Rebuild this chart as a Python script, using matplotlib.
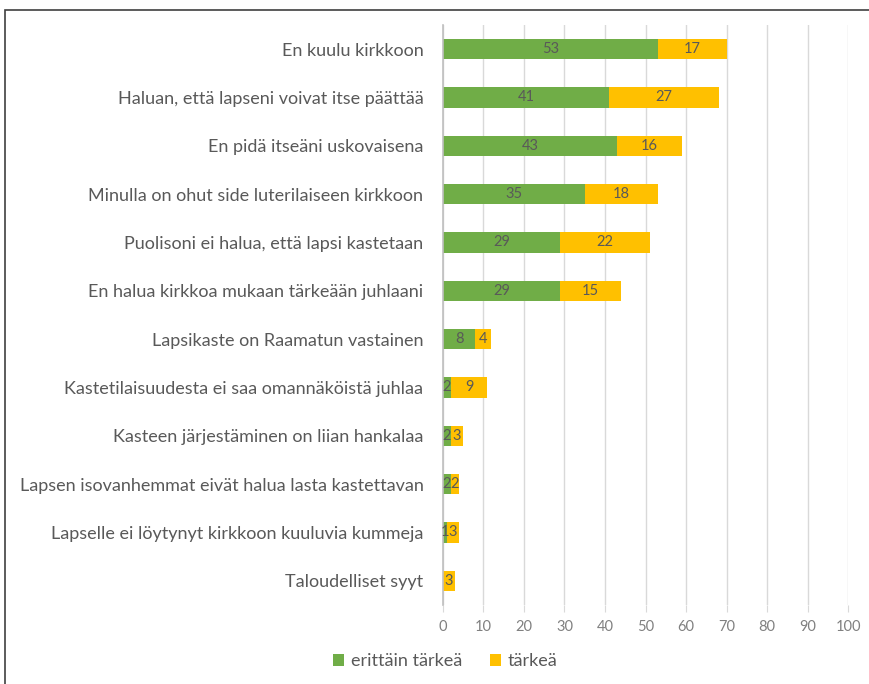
import numpy as np
import matplotlib.pyplot as plt
from matplotlib.patches import Rectangle

plt.rcParams['font.family'] = ['Lato', 'DejaVu Sans']

# data (top to bottom)
categories = ['En kuulu kirkkoon',
              'Haluan, että lapseni voivat itse päättää',
              'En pidä itseäni uskovaisena',
              'Minulla on ohut side luterilaiseen kirkkoon',
              'Puolisoni ei halua, että lapsi kastetaan',
              'En halua kirkkoa mukaan tärkeään juhlaani',
              'Lapsikaste on Raamatun vastainen',
              'Kastetilaisuudesta ei saa omannäköistä juhlaa',
              'Kasteen järjestäminen on liian hankalaa',
              'Lapsen isovanhemmat eivät halua lasta kastettavan',
              'Lapselle ei löytynyt kirkkoon kuuluvia kummeja',
              'Taloudelliset syyt']
erittain = [53, 41, 43, 35, 29, 29, 8, 2, 2, 2, 1, 0]
tarkea = [17, 27, 16, 18, 22, 15, 4, 9, 3, 2, 3, 3]

green = '#70AD47'
orange = '#FFC000'

fig = plt.figure(figsize=(8.7, 6.84), dpi=100)
ax = fig.add_axes([0.509, 0.1155, 0.466, 0.848])

y = np.arange(len(categories))
h = 0.42
b1 = ax.barh(y, erittain, height=h, color=green, label='erittäin tärkeä')
b2 = ax.barh(y, tarkea, left=erittain, height=h, color=orange, label='tärkeä')

for bars, vals in ((b1, erittain), (b2, tarkea)):
    for r, v in zip(bars, vals):
        if v == 0:
            continue
        ax.text(r.get_x() + r.get_width() / 2, r.get_y() + r.get_height() / 2, str(v),
                ha='center', va='center', fontsize=10.5, color='#595959')

ax.set_xlim(0, 100)
ax.set_ylim(len(categories) - 0.5, -0.5)
ax.set_xticks(range(0, 101, 10))
ax.set_yticks(y)
ax.set_yticklabels(categories, fontsize=13, color='#595959')
ax.tick_params(axis='y', length=0, pad=14)
ax.tick_params(axis='x', colors='#D9D9D9', labelcolor='#808080', labelsize=10.5, length=5, pad=6)
ax.xaxis.grid(True, color='#D9D9D9', linewidth=1)
ax.set_axisbelow(True)
for s in ['top', 'right', 'bottom']:
    ax.spines[s].set_visible(False)
ax.spines['left'].set_color('#BFBFBF')
ax.spines['left'].set_linewidth(1.2)

fig.legend(loc='center', bbox_to_anchor=(0.512, 0.033), ncol=2, frameon=False,
           fontsize=13, labelcolor='#595959', handlelength=0.6, handleheight=0.6,
           handletextpad=0.4, columnspacing=1.5)

# outer frame
fig.patches.append(Rectangle((5 / 870, -0.1), 1.2, 1.1 - 10 / 684, transform=fig.transFigure,
                             fill=False, edgecolor='#404040', linewidth=1.2))

fig.savefig('out.png', dpi=100)
